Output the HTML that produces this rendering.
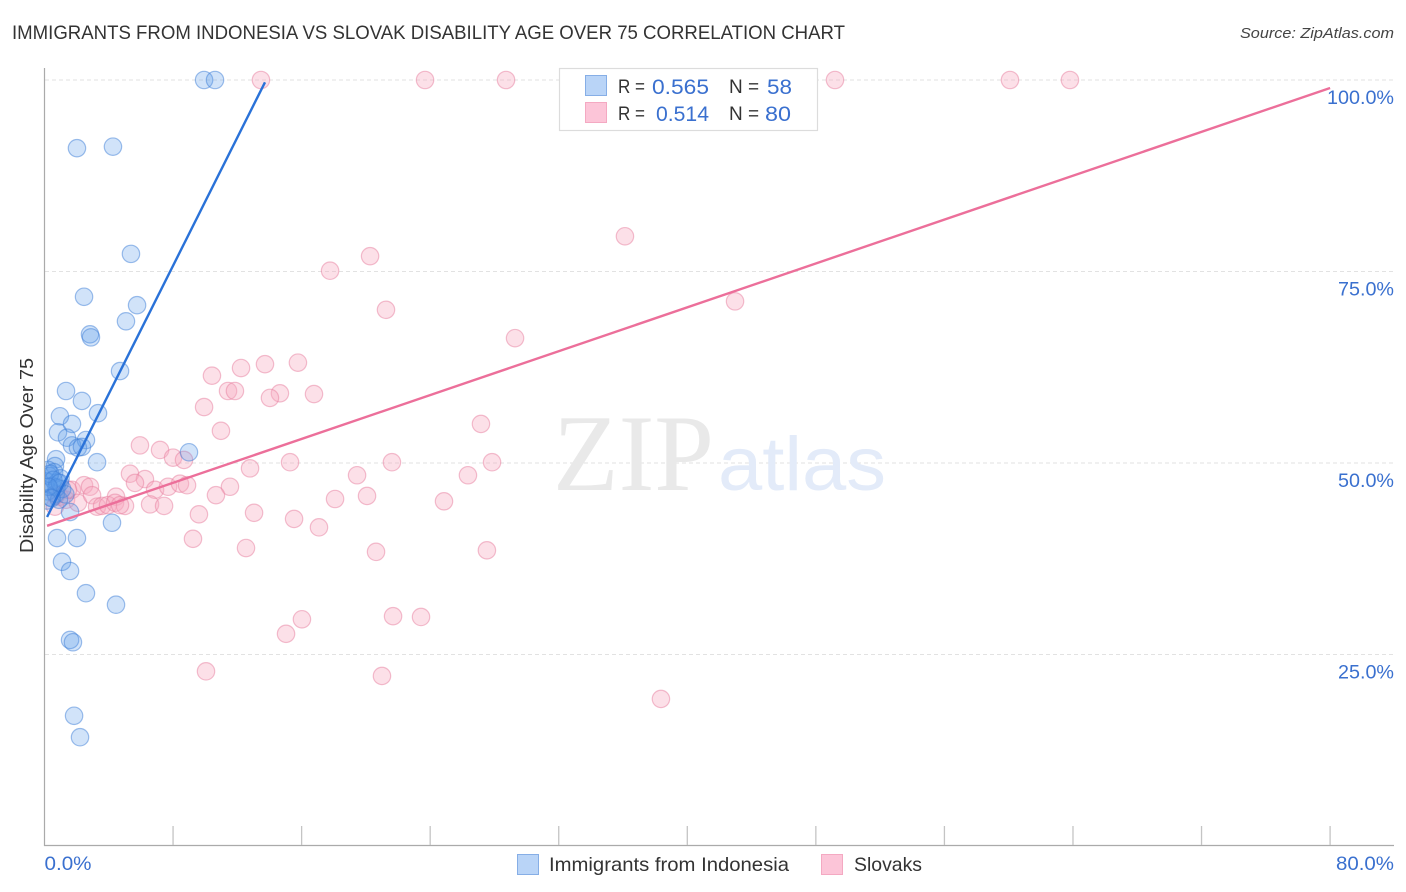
<!DOCTYPE html>
<html>
<head>
<meta charset="utf-8">
<title>Immigrants from Indonesia vs Slovak Disability Age Over 75 Correlation Chart</title>
<style>
html,body{margin:0;padding:0;background:#fff;width:1406px;height:892px;overflow:hidden}
svg{display:block}
text{font-family:"Liberation Sans",sans-serif}
</style>
</head>
<body>
<svg id="chart" width="1406" height="892" viewBox="0 0 1406 892" xmlns="http://www.w3.org/2000/svg">
  <defs>
    <clipPath id="plot-clip"><rect x="45" y="60" width="1349" height="785"/></clipPath>
  </defs>
  <rect x="0" y="0" width="1406" height="892" fill="#ffffff"/>
  <text x="12" y="39" font-size="19.5" fill="#333" textLength="833" lengthAdjust="spacingAndGlyphs">IMMIGRANTS FROM INDONESIA VS SLOVAK DISABILITY AGE OVER 75 CORRELATION CHART</text>
  <text x="1394" y="38" font-size="15" font-style="italic" fill="#444" text-anchor="end" textLength="154" lengthAdjust="spacingAndGlyphs">Source: ZipAtlas.com</text>
  <g id="grid"></g>
  <g>
    <text x="553" y="490" font-size="109" fill="#e9e9e9" textLength="161" lengthAdjust="spacingAndGlyphs" style="font-family:'Liberation Serif',serif">ZIP</text>
    <text x="718" y="490" font-size="76" fill="#e3ebf9" textLength="168" lengthAdjust="spacingAndGlyphs">atlas</text>
  </g>
  <g id="axes"></g>
  <g id="points" clip-path="url(#plot-clip)"></g>
  <g id="lines"></g>
  <text transform="translate(33,553) rotate(-90)" font-size="18.5" fill="#333" textLength="195" lengthAdjust="spacingAndGlyphs">Disability Age Over 75</text>
  <g>
    <rect x="559.5" y="68.5" width="258" height="62" fill="#fff" stroke="#dcdcdc" stroke-width="1.2"/>
    <rect x="585.5" y="75.5" width="21" height="20" fill="#b9d4f7" stroke="#86aee6" stroke-width="1"/>
    <rect x="585.5" y="102.5" width="21" height="20" fill="#fcc5d8" stroke="#f4a9c2" stroke-width="1"/>
    <text x="618" y="93" font-size="19" fill="#333" textLength="27" lengthAdjust="spacingAndGlyphs">R =</text>
    <text x="652" y="94" font-size="21.5" fill="#3a70cf" textLength="57" lengthAdjust="spacingAndGlyphs">0.565</text>
    <text x="729" y="93" font-size="19" fill="#333">N =</text>
    <text x="767" y="94" font-size="21.5" fill="#3a70cf" textLength="25" lengthAdjust="spacingAndGlyphs">58</text>
    <text x="618" y="120" font-size="19" fill="#333" textLength="27" lengthAdjust="spacingAndGlyphs">R =</text>
    <text x="656" y="121" font-size="21.5" fill="#3a70cf" textLength="53" lengthAdjust="spacingAndGlyphs">0.514</text>
    <text x="729" y="120" font-size="19" fill="#333">N =</text>
    <text x="765" y="121" font-size="21.5" fill="#3a70cf" textLength="26" lengthAdjust="spacingAndGlyphs">80</text>
  </g>
  <g>
    <rect x="517.5" y="854.5" width="21" height="20" fill="#b9d4f7" stroke="#86aee6" stroke-width="1"/>
    <text x="549" y="871" font-size="19.5" fill="#333" textLength="240" lengthAdjust="spacingAndGlyphs">Immigrants from Indonesia</text>
    <rect x="821.5" y="854.5" width="21" height="20" fill="#fcc5d8" stroke="#f4a9c2" stroke-width="1"/>
    <text x="854" y="871" font-size="19.5" fill="#333" textLength="68" lengthAdjust="spacingAndGlyphs">Slovaks</text>
  </g>
</svg>
<script>
const blueX = [9.93,10.61,2.02,4.26,5.38,2.46,5.76,5.07,2.83,2.89,4.70,1.34,2.33,3.33,0.96,1.71,0.84,1.40,1.71,2.58,2.08,2.33,3.27,8.99,0.72,0.65,0.22,4.20,1.59,0.78,2.02,1.09,1.59,2.58,4.45,1.59,1.77,1.84,2.21,
  0.10,0.20,0.30,0.40,0.50,0.60,0.70,0.80,0.90,1.00,1.10,0.15,0.35,0.55,0.75,0.95,1.30,0.25,0.45];
const blueY = [100,100,91.1,91.3,77.3,71.7,70.6,68.5,66.8,66.4,62.0,59.4,58.1,56.5,56.1,55.1,54.0,53.3,52.3,53.0,52.0,52.1,50.1,51.4,50.5,49.6,49.1,42.2,43.6,40.2,40.2,37.1,35.9,33.0,31.5,26.9,26.6,17.0,14.2,
  47.6,46.3,48.3,45.5,47.0,48.8,46.0,47.5,45.2,48.0,46.6,45.1,48.6,47.8,46.8,47.4,45.9,46.9,45.4];
const pinkX = [13.47,23.68,28.72,49.19,60.08,63.81,36.12,17.77,20.26,21.25,42.97,29.28,13.72,15.77,12.23,10.42,11.42,11.85,14.65,14.03,16.77,9.93,10.98,27.16,5.94,7.19,8.0,8.68,12.79,15.28,21.62,27.85,19.45,26.35,5.32,6.25,5.63,6.88,7.69,8.43,8.87,11.54,10.67,18.08,20.07,24.86,4.45,6.57,7.44,9.61,13.04,15.53,17.08,9.24,12.54,20.63,27.53,16.02,21.69,23.43,15.03,10.05,21.0,38.36,
  0.65,0.96,1.34,1.71,2.08,2.46,2.83,2.96,3.27,3.58,3.95,4.39,5.01,4.70,1.46,0.72];
const pinkY = [100,100,100,100,100,100,79.6,75.1,77.0,70.0,71.1,66.3,62.9,63.1,62.4,61.4,59.4,59.4,59.1,58.5,59.0,57.3,54.2,55.1,52.3,51.7,50.7,50.4,49.3,50.1,50.1,50.1,48.4,48.4,48.6,47.9,47.4,46.5,46.9,47.3,47.1,46.9,45.8,45.3,45.7,45.0,45.6,44.6,44.4,43.3,43.5,42.7,41.6,40.1,38.9,38.4,38.6,29.6,30.0,29.9,27.7,22.8,22.2,19.2,
  44.3,45.6,45.2,46.5,44.8,47.1,46.9,45.8,44.3,44.4,44.5,44.8,44.4,44.5,46.5,45.8];
const blueTrendX = [0.16,13.72];
const blueTrendY = [42.95,99.7];
const pinkTrendX = [0.16,80];
const pinkTrendY = [41.8,98.96];
const yTicks = [25,50,75,100];
const yTickLabels = ["25.0%","50.0%","75.0%","100.0%"];
const xTicks = [8,16,24,32,40,48,56,64,72,80];
const xEndValues = [0,80];
const xEndLabels = ["0.0%","80.0%"];

const NS = "http://www.w3.org/2000/svg";
const xScale = v => 44.5 + v * 16.07;
const yScale = v => 846 - v * 7.66;
function make(tag, attrs, parent) {
  const el = document.createElementNS(NS, tag);
  for (const k in attrs) el.setAttribute(k, attrs[k]);
  parent.appendChild(el);
  return el;
}
const grid = document.getElementById("grid");
const axes = document.getElementById("axes");
const points = document.getElementById("points");
const lines = document.getElementById("lines");

yTicks.forEach((t, i) => {
  const g = make("line", {x1:45, x2:1394, y1:yScale(t), y2:yScale(t), stroke:"#e2e2e2", "stroke-width":1, "stroke-dasharray":"4 3"}, grid);
  
  
  const label = make("text", {x:1394, y:yScale(t)+24, "font-size":19.5, fill:"#3a70cf", "text-anchor":"end", textLength: i === 3 ? 67 : 56, lengthAdjust:"spacingAndGlyphs"}, axes);
  label.textContent = yTickLabels[i];
  
  
});

const yAxis = make("line", {x1:44.5, x2:44.5, y1:68, y2:846, stroke:"#aaaaaa", "stroke-width":1.2}, axes);


const xAxis = make("line", {x1:44, x2:1394, y1:845.5, y2:845.5, stroke:"#aaaaaa", "stroke-width":1.2}, axes);



xTicks.forEach(t => {
  const tick = make("line", {x1:xScale(t), x2:xScale(t), y1:826, y2:845, stroke:"#c4c4c4", "stroke-width":1.3}, axes);
  
  
});

xEndValues.forEach((t, i) => {
  const label = make("text", {x:i === 0 ? xScale(t) : 1394, y:870, "font-size":19.5, fill:"#3a70cf", "text-anchor":i === 0 ? "start" : "end", textLength:i === 0 ? 47 : 58, lengthAdjust:"spacingAndGlyphs"}, axes);
  label.textContent = xEndLabels[i];
  
  
});

pinkX.forEach((v, i) => {
  const c = make("circle", {cx:xScale(v), cy:yScale(pinkY[i]), r:8.7, fill:"#f7a8c0", "fill-opacity":0.36, stroke:"#e8809f", "stroke-opacity":0.5, "stroke-width":1.2}, points);
  
  
});
blueX.forEach((v, i) => {
  const c = make("circle", {cx:xScale(v), cy:yScale(blueY[i]), r:8.7, fill:"#5b9be8", "fill-opacity":0.28, stroke:"#3f7fd8", "stroke-opacity":0.5, "stroke-width":1.2}, points);
  
  
});

const blueLine = make("line", {x1:xScale(blueTrendX[0]), y1:yScale(blueTrendY[0]), x2:xScale(blueTrendX[1]), y2:yScale(blueTrendY[1]), stroke:"#2a72d8", "stroke-width":2.4}, lines);


const pinkLine = make("line", {x1:xScale(pinkTrendX[0]), y1:yScale(pinkTrendY[0]), x2:xScale(pinkTrendX[1]), y2:yScale(pinkTrendY[1]), stroke:"#ec6f9a", "stroke-width":2.4}, lines);


</script>
</body>
</html>
